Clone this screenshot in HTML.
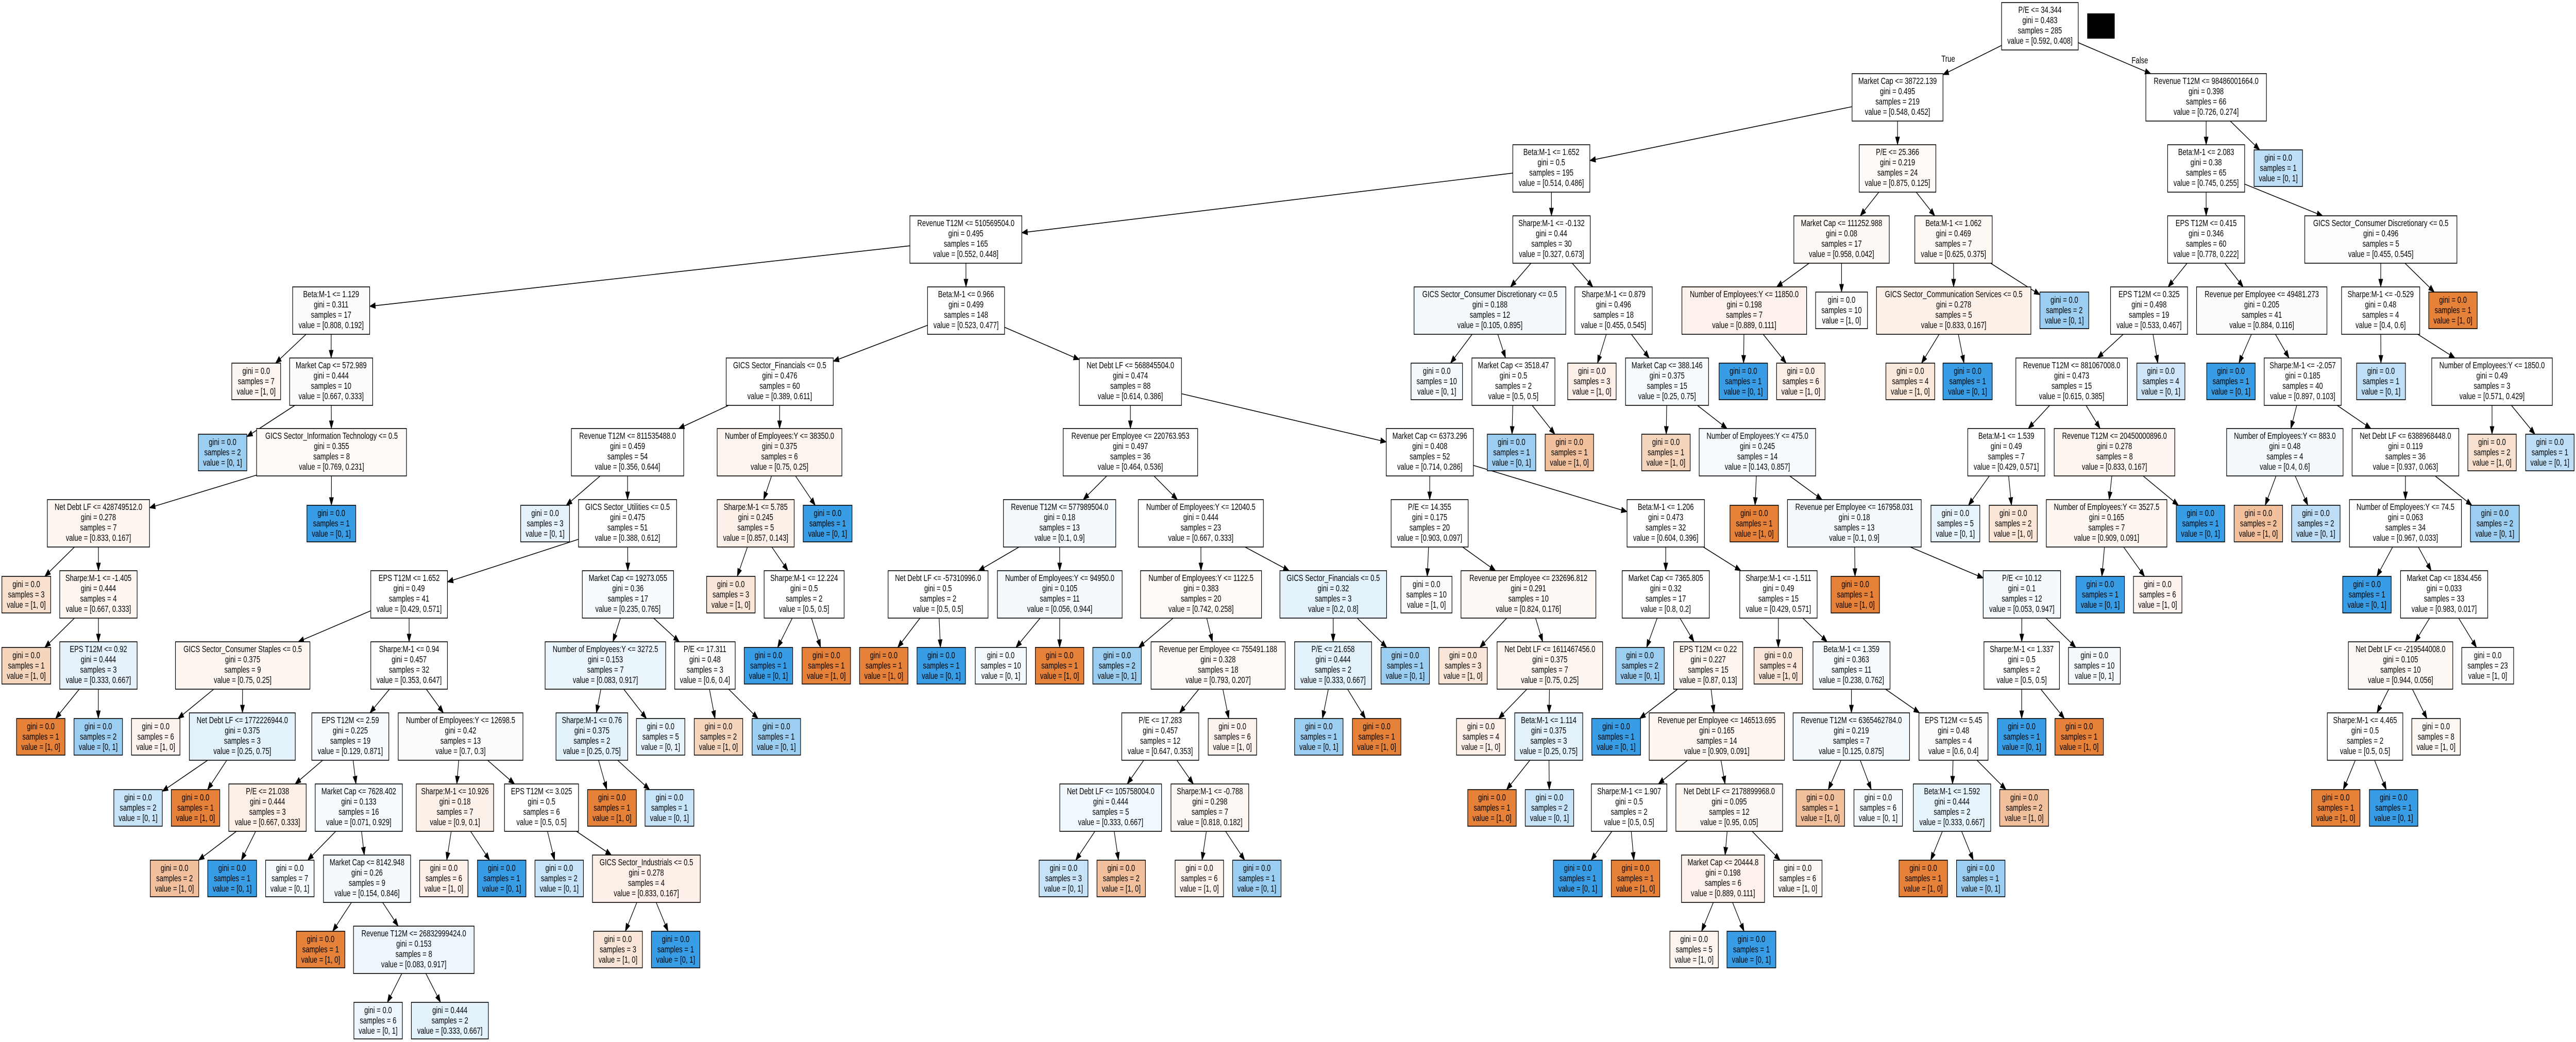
<!DOCTYPE html>
<html><head><meta charset="utf-8"><style>
html,body{margin:0;padding:0;background:#fff;overflow:hidden;width:100%;height:100%}
svg#main{display:block;width:100vw;height:100vh}
svg svg{overflow:visible}
text{font-family:"Liberation Sans",Arial,sans-serif;font-size:18px;text-anchor:middle;fill:#000}
rect.n{stroke:#000;stroke-width:1.6}
</style></head><body>
<svg id="main" xmlns="http://www.w3.org/2000/svg" viewBox="0 0 6857 2023" preserveAspectRatio="none">
<rect x="0" y="0" width="6857" height="2023" fill="#fff"/>
<g id="edges"></g>
<rect x="5556" y="26" width="73" height="49" fill="#000"/>
<text x="5186" y="120">True</text>
<text x="5696" y="123">False</text>

<svg id="R0" x="5328" y="5" width="204" height="92"><rect class="n" width="100%" height="100%" fill="#fff"/><text x="50%" y="20">P/E &lt;= 34.344</text><text x="50%" y="40">gini = 0.483</text><text x="50%" y="60">samples = 285</text><text x="50%" y="80">value = [0.592, 0.408]</text></svg>
<svg id="A1" x="4930" y="143" width="242" height="92"><rect class="n" width="100%" height="100%" fill="#fff"/><text x="50%" y="20">Market Cap &lt;= 38722.139</text><text x="50%" y="40">gini = 0.495</text><text x="50%" y="60">samples = 219</text><text x="50%" y="80">value = [0.548, 0.452]</text></svg>
<svg id="A2" x="5712" y="143" width="321" height="92"><rect class="n" width="100%" height="100%" fill="#fff"/><text x="50%" y="20">Revenue T12M &lt;= 98486001664.0</text><text x="50%" y="40">gini = 0.398</text><text x="50%" y="60">samples = 66</text><text x="50%" y="80">value = [0.726, 0.274]</text></svg>
<svg id="B1" x="4027" y="281" width="205" height="92"><rect class="n" width="100%" height="100%" fill="#fff"/><text x="50%" y="20">Beta:M-1 &lt;= 1.652</text><text x="50%" y="40">gini = 0.5</text><text x="50%" y="60">samples = 195</text><text x="50%" y="80">value = [0.514, 0.486]</text></svg>
<svg id="B2" x="4949" y="281" width="204" height="92"><rect class="n" width="100%" height="100%" fill="#fefaf7"/><text x="50%" y="20">P/E &lt;= 25.366</text><text x="50%" y="40">gini = 0.219</text><text x="50%" y="60">samples = 24</text><text x="50%" y="80">value = [0.875, 0.125]</text></svg>
<svg id="B3" x="5770" y="281" width="205" height="92"><rect class="n" width="100%" height="100%" fill="#fff"/><text x="50%" y="20">Beta:M-1 &lt;= 2.083</text><text x="50%" y="40">gini = 0.38</text><text x="50%" y="60">samples = 65</text><text x="50%" y="80">value = [0.745, 0.255]</text></svg>
<svg id="B4" x="6000" y="291" width="129" height="71"><rect class="n" width="100%" height="100%" fill="#bcdef6"/><text x="50%" y="21">gini = 0.0</text><text x="50%" y="41">samples = 1</text><text x="50%" y="61">value = [0, 1]</text></svg>

<svg id="C1" x="2422" y="419" width="298" height="92"><rect class="n" width="100%" height="100%" fill="#fff"/><text x="50%" y="20">Revenue T12M &lt;= 510569504.0</text><text x="50%" y="40">gini = 0.495</text><text x="50%" y="60">samples = 165</text><text x="50%" y="80">value = [0.552, 0.448]</text></svg>
<svg id="C2" x="4027" y="419" width="206" height="92"><rect class="n" width="100%" height="100%" fill="#fff"/><text x="50%" y="20">Sharpe:M-1 &lt;= -0.132</text><text x="50%" y="40">gini = 0.44</text><text x="50%" y="60">samples = 30</text><text x="50%" y="80">value = [0.327, 0.673]</text></svg>
<svg id="C3" x="4775" y="419" width="254" height="92"><rect class="n" width="100%" height="100%" fill="#fdf8f4"/><text x="50%" y="20">Market Cap &lt;= 111252.988</text><text x="50%" y="40">gini = 0.08</text><text x="50%" y="60">samples = 17</text><text x="50%" y="80">value = [0.958, 0.042]</text></svg>
<svg id="C4" x="5097" y="419" width="206" height="92"><rect class="n" width="100%" height="100%" fill="#fdf8f4"/><text x="50%" y="20">Beta:M-1 &lt;= 1.062</text><text x="50%" y="40">gini = 0.469</text><text x="50%" y="60">samples = 7</text><text x="50%" y="80">value = [0.625, 0.375]</text></svg>
<svg id="C5" x="5770" y="419" width="205" height="92"><rect class="n" width="100%" height="100%" fill="#fff"/><text x="50%" y="20">EPS T12M &lt;= 0.415</text><text x="50%" y="40">gini = 0.346</text><text x="50%" y="60">samples = 60</text><text x="50%" y="80">value = [0.778, 0.222]</text></svg>
<svg id="C6" x="6135" y="419" width="405" height="92"><rect class="n" width="100%" height="100%" fill="#fcfdff"/><text x="50%" y="20">GICS Sector_Consumer Discretionary &lt;= 0.5</text><text x="50%" y="40">gini = 0.496</text><text x="50%" y="60">samples = 5</text><text x="50%" y="80">value = [0.455, 0.545]</text></svg>

<svg id="D1" x="779" y="557" width="205" height="92"><rect class="n" width="100%" height="100%" fill="#fefcfb"/><text x="50%" y="20">Beta:M-1 &lt;= 1.129</text><text x="50%" y="40">gini = 0.311</text><text x="50%" y="60">samples = 17</text><text x="50%" y="80">value = [0.808, 0.192]</text></svg>
<svg id="D2" x="2469" y="557" width="205" height="92"><rect class="n" width="100%" height="100%" fill="#fff"/><text x="50%" y="20">Beta:M-1 &lt;= 0.966</text><text x="50%" y="40">gini = 0.499</text><text x="50%" y="60">samples = 148</text><text x="50%" y="80">value = [0.523, 0.477]</text></svg>
<svg id="D3" x="3764" y="557" width="404" height="92"><rect class="n" width="100%" height="100%" fill="#f4f9fe"/><text x="50%" y="20">GICS Sector_Consumer Discretionary &lt;= 0.5</text><text x="50%" y="40">gini = 0.188</text><text x="50%" y="60">samples = 12</text><text x="50%" y="80">value = [0.105, 0.895]</text></svg>
<svg id="D4" x="4192" y="557" width="206" height="92"><rect class="n" width="100%" height="100%" fill="#fff"/><text x="50%" y="20">Sharpe:M-1 &lt;= 0.879</text><text x="50%" y="40">gini = 0.496</text><text x="50%" y="60">samples = 18</text><text x="50%" y="80">value = [0.455, 0.545]</text></svg>
<svg id="D5" x="4477" y="557" width="332" height="92"><rect class="n" width="100%" height="100%" fill="#fcf2eb"/><text x="50%" y="20">Number of Employees:Y &lt;= 11850.0</text><text x="50%" y="40">gini = 0.198</text><text x="50%" y="60">samples = 7</text><text x="50%" y="80">value = [0.889, 0.111]</text></svg>
<svg id="D6" x="4833" y="567" width="138" height="71"><rect class="n" width="100%" height="100%" fill="#fefcfb"/><text x="50%" y="21">gini = 0.0</text><text x="50%" y="41">samples = 10</text><text x="50%" y="61">value = [1, 0]</text></svg>
<svg id="D7" x="4995" y="557" width="411" height="92"><rect class="n" width="100%" height="100%" fill="#fcf1e9"/><text x="50%" y="20">GICS Sector_Communication Services &lt;= 0.5</text><text x="50%" y="40">gini = 0.278</text><text x="50%" y="60">samples = 5</text><text x="50%" y="80">value = [0.833, 0.167]</text></svg>
<svg id="D8" x="5430" y="567" width="130" height="71"><rect class="n" width="100%" height="100%" fill="#9ccef2"/><text x="50%" y="21">gini = 0.0</text><text x="50%" y="41">samples = 2</text><text x="50%" y="61">value = [0, 1]</text></svg>
<svg id="D9" x="5618" y="557" width="205" height="92"><rect class="n" width="100%" height="100%" fill="#fff"/><text x="50%" y="20">EPS T12M &lt;= 0.325</text><text x="50%" y="40">gini = 0.498</text><text x="50%" y="60">samples = 19</text><text x="50%" y="80">value = [0.533, 0.467]</text></svg>
<svg id="D10" x="5847" y="557" width="347" height="92"><rect class="n" width="100%" height="100%" fill="#fefcfa"/><text x="50%" y="20">Revenue per Employee &lt;= 49481.273</text><text x="50%" y="40">gini = 0.205</text><text x="50%" y="60">samples = 41</text><text x="50%" y="80">value = [0.884, 0.116]</text></svg>
<svg id="D11" x="6233" y="557" width="208" height="92"><rect class="n" width="100%" height="100%" fill="#fff"/><text x="50%" y="20">Sharpe:M-1 &lt;= -0.529</text><text x="50%" y="40">gini = 0.48</text><text x="50%" y="60">samples = 4</text><text x="50%" y="80">value = [0.4, 0.6]</text></svg>
<svg id="D12" x="6465" y="567" width="129" height="71"><rect class="n" width="100%" height="100%" fill="#e58139"/><text x="50%" y="21">gini = 0.0</text><text x="50%" y="41">samples = 1</text><text x="50%" y="61">value = [1, 0]</text></svg>

<svg id="E1" x="617" y="705" width="130" height="71"><rect class="n" width="100%" height="100%" fill="#fdf5f0"/><text x="50%" y="21">gini = 0.0</text><text x="50%" y="41">samples = 7</text><text x="50%" y="61">value = [1, 0]</text></svg>
<svg id="E2" x="771" y="695" width="221" height="92"><rect class="n" width="100%" height="100%" fill="#fefcfb"/><text x="50%" y="20">Market Cap &lt;= 572.989</text><text x="50%" y="40">gini = 0.444</text><text x="50%" y="60">samples = 10</text><text x="50%" y="80">value = [0.667, 0.333]</text></svg>
<svg id="E3" x="1933" y="695" width="285" height="92"><rect class="n" width="100%" height="100%" fill="#fff"/><text x="50%" y="20">GICS Sector_Financials &lt;= 0.5</text><text x="50%" y="40">gini = 0.476</text><text x="50%" y="60">samples = 60</text><text x="50%" y="80">value = [0.389, 0.611]</text></svg>
<svg id="E4" x="2873" y="695" width="272" height="92"><rect class="n" width="100%" height="100%" fill="#fff"/><text x="50%" y="20">Net Debt LF &lt;= 568845504.0</text><text x="50%" y="40">gini = 0.474</text><text x="50%" y="60">samples = 88</text><text x="50%" y="80">value = [0.614, 0.386]</text></svg>
<svg id="E5" x="3756" y="705" width="137" height="71"><rect class="n" width="100%" height="100%" fill="#f4f9fe"/><text x="50%" y="21">gini = 0.0</text><text x="50%" y="41">samples = 10</text><text x="50%" y="61">value = [0, 1]</text></svg>
<svg id="E6" x="3918" y="695" width="221" height="92"><rect class="n" width="100%" height="100%" fill="#fff"/><text x="50%" y="20">Market Cap &lt;= 3518.47</text><text x="50%" y="40">gini = 0.5</text><text x="50%" y="60">samples = 2</text><text x="50%" y="80">value = [0.5, 0.5]</text></svg>
<svg id="E7" x="4173" y="705" width="129" height="71"><rect class="n" width="100%" height="100%" fill="#fcf0e8"/><text x="50%" y="21">gini = 0.0</text><text x="50%" y="41">samples = 3</text><text x="50%" y="61">value = [1, 0]</text></svg>
<svg id="E8" x="4327" y="695" width="221" height="92"><rect class="n" width="100%" height="100%" fill="#f8fbfe"/><text x="50%" y="20">Market Cap &lt;= 388.146</text><text x="50%" y="40">gini = 0.375</text><text x="50%" y="60">samples = 15</text><text x="50%" y="80">value = [0.25, 0.75]</text></svg>
<svg id="E9" x="4576" y="705" width="129" height="71"><rect class="n" width="100%" height="100%" fill="#399de5"/><text x="50%" y="21">gini = 0.0</text><text x="50%" y="41">samples = 1</text><text x="50%" y="61">value = [0, 1]</text></svg>
<svg id="E10" x="4729" y="705" width="129" height="71"><rect class="n" width="100%" height="100%" fill="#fcf0e8"/><text x="50%" y="21">gini = 0.0</text><text x="50%" y="41">samples = 6</text><text x="50%" y="61">value = [1, 0]</text></svg>
<svg id="E11" x="5020" y="705" width="130" height="71"><rect class="n" width="100%" height="100%" fill="#fbe9dc"/><text x="50%" y="21">gini = 0.0</text><text x="50%" y="41">samples = 4</text><text x="50%" y="61">value = [1, 0]</text></svg>
<svg id="E12" x="5172" y="705" width="131" height="71"><rect class="n" width="100%" height="100%" fill="#399de5"/><text x="50%" y="21">gini = 0.0</text><text x="50%" y="41">samples = 1</text><text x="50%" y="61">value = [0, 1]</text></svg>
<svg id="E13" x="5366" y="695" width="297" height="92"><rect class="n" width="100%" height="100%" fill="#fff"/><text x="50%" y="20">Revenue T12M &lt;= 881067008.0</text><text x="50%" y="40">gini = 0.473</text><text x="50%" y="60">samples = 15</text><text x="50%" y="80">value = [0.615, 0.385]</text></svg>
<svg id="E14" x="5688" y="705" width="128" height="71"><rect class="n" width="100%" height="100%" fill="#cfe7f9"/><text x="50%" y="21">gini = 0.0</text><text x="50%" y="41">samples = 4</text><text x="50%" y="61">value = [0, 1]</text></svg>
<svg id="E15" x="5874" y="705" width="129" height="71"><rect class="n" width="100%" height="100%" fill="#399de5"/><text x="50%" y="21">gini = 0.0</text><text x="50%" y="41">samples = 1</text><text x="50%" y="61">value = [0, 1]</text></svg>
<svg id="E16" x="6027" y="695" width="205" height="92"><rect class="n" width="100%" height="100%" fill="#fff"/><text x="50%" y="20">Sharpe:M-1 &lt;= -2.057</text><text x="50%" y="40">gini = 0.185</text><text x="50%" y="60">samples = 40</text><text x="50%" y="80">value = [0.897, 0.103]</text></svg>
<svg id="E17" x="6273" y="705" width="130" height="71"><rect class="n" width="100%" height="100%" fill="#bfe0f7"/><text x="50%" y="21">gini = 0.0</text><text x="50%" y="41">samples = 1</text><text x="50%" y="61">value = [0, 1]</text></svg>
<svg id="E18" x="6473" y="695" width="321" height="92"><rect class="n" width="100%" height="100%" fill="#fff"/><text x="50%" y="20">Number of Employees:Y &lt;= 1850.0</text><text x="50%" y="40">gini = 0.49</text><text x="50%" y="60">samples = 3</text><text x="50%" y="80">value = [0.571, 0.429]</text></svg>

<svg id="F1" x="528" y="843" width="129" height="71"><rect class="n" width="100%" height="100%" fill="#9ccef2"/><text x="50%" y="21">gini = 0.0</text><text x="50%" y="41">samples = 2</text><text x="50%" y="61">value = [0, 1]</text></svg>
<svg id="F2" x="683" y="832" width="399" height="92"><rect class="n" width="100%" height="100%" fill="#fefaf7"/><text x="50%" y="20">GICS Sector_Information Technology &lt;= 0.5</text><text x="50%" y="40">gini = 0.355</text><text x="50%" y="60">samples = 8</text><text x="50%" y="80">value = [0.769, 0.231]</text></svg>
<svg id="F3" x="1521" y="832" width="299" height="92"><rect class="n" width="100%" height="100%" fill="#fff"/><text x="50%" y="20">Revenue T12M &lt;= 811535488.0</text><text x="50%" y="40">gini = 0.459</text><text x="50%" y="60">samples = 54</text><text x="50%" y="80">value = [0.356, 0.644]</text></svg>
<svg id="F4" x="1909" y="832" width="332" height="92"><rect class="n" width="100%" height="100%" fill="#fcf4ee"/><text x="50%" y="20">Number of Employees:Y &lt;= 38350.0</text><text x="50%" y="40">gini = 0.375</text><text x="50%" y="60">samples = 6</text><text x="50%" y="80">value = [0.75, 0.25]</text></svg>
<svg id="F5" x="2830" y="832" width="358" height="92"><rect class="n" width="100%" height="100%" fill="#fff"/><text x="50%" y="20">Revenue per Employee &lt;= 220763.953</text><text x="50%" y="40">gini = 0.497</text><text x="50%" y="60">samples = 36</text><text x="50%" y="80">value = [0.464, 0.536]</text></svg>
<svg id="F6" x="3690" y="832" width="232" height="92"><rect class="n" width="100%" height="100%" fill="#fff"/><text x="50%" y="20">Market Cap &lt;= 6373.296</text><text x="50%" y="40">gini = 0.408</text><text x="50%" y="60">samples = 52</text><text x="50%" y="80">value = [0.714, 0.286]</text></svg>
<svg id="F7" x="3959" y="843" width="129" height="71"><rect class="n" width="100%" height="100%" fill="#9ccef2"/><text x="50%" y="21">gini = 0.0</text><text x="50%" y="41">samples = 1</text><text x="50%" y="61">value = [0, 1]</text></svg>
<svg id="F8" x="4113" y="843" width="129" height="71"><rect class="n" width="100%" height="100%" fill="#f2c09c"/><text x="50%" y="21">gini = 0.0</text><text x="50%" y="41">samples = 1</text><text x="50%" y="61">value = [1, 0]</text></svg>
<svg id="F9" x="4370" y="843" width="129" height="71"><rect class="n" width="100%" height="100%" fill="#f6d5bd"/><text x="50%" y="21">gini = 0.0</text><text x="50%" y="41">samples = 1</text><text x="50%" y="61">value = [1, 0]</text></svg>
<svg id="F10" x="4523" y="832" width="310" height="92"><rect class="n" width="100%" height="100%" fill="#f6fafe"/><text x="50%" y="20">Number of Employees:Y &lt;= 475.0</text><text x="50%" y="40">gini = 0.245</text><text x="50%" y="60">samples = 14</text><text x="50%" y="80">value = [0.143, 0.857]</text></svg>
<svg id="F11" x="5238" y="832" width="205" height="92"><rect class="n" width="100%" height="100%" fill="#fff"/><text x="50%" y="20">Beta:M-1 &lt;= 1.539</text><text x="50%" y="40">gini = 0.49</text><text x="50%" y="60">samples = 7</text><text x="50%" y="80">value = [0.429, 0.571]</text></svg>
<svg id="F12" x="5468" y="832" width="321" height="92"><rect class="n" width="100%" height="100%" fill="#fdf6f1"/><text x="50%" y="20">Revenue T12M &lt;= 20450000896.0</text><text x="50%" y="40">gini = 0.278</text><text x="50%" y="60">samples = 8</text><text x="50%" y="80">value = [0.833, 0.167]</text></svg>
<svg id="F13" x="5927" y="832" width="310" height="92"><rect class="n" width="100%" height="100%" fill="#f4f9fe"/><text x="50%" y="20">Number of Employees:Y &lt;= 883.0</text><text x="50%" y="40">gini = 0.48</text><text x="50%" y="60">samples = 4</text><text x="50%" y="80">value = [0.4, 0.6]</text></svg>
<svg id="F14" x="6261" y="832" width="284" height="92"><rect class="n" width="100%" height="100%" fill="#fff"/><text x="50%" y="20">Net Debt LF &lt;= 6388968448.0</text><text x="50%" y="40">gini = 0.119</text><text x="50%" y="60">samples = 36</text><text x="50%" y="80">value = [0.937, 0.063]</text></svg>
<svg id="F15" x="6569" y="843" width="129" height="71"><rect class="n" width="100%" height="100%" fill="#f8e0ce"/><text x="50%" y="21">gini = 0.0</text><text x="50%" y="41">samples = 2</text><text x="50%" y="61">value = [1, 0]</text></svg>
<svg id="F16" x="6723" y="843" width="129" height="71"><rect class="n" width="100%" height="100%" fill="#bddef6"/><text x="50%" y="21">gini = 0.0</text><text x="50%" y="41">samples = 1</text><text x="50%" y="61">value = [0, 1]</text></svg>

<svg id="G1" x="126" y="970" width="272" height="92"><rect class="n" width="100%" height="100%" fill="#fdf6f1"/><text x="50%" y="20">Net Debt LF &lt;= 428749512.0</text><text x="50%" y="40">gini = 0.278</text><text x="50%" y="60">samples = 7</text><text x="50%" y="80">value = [0.833, 0.167]</text></svg>
<svg id="G2" x="817" y="981" width="130" height="71"><rect class="n" width="100%" height="100%" fill="#399de5"/><text x="50%" y="21">gini = 0.0</text><text x="50%" y="41">samples = 1</text><text x="50%" y="61">value = [0, 1]</text></svg>
<svg id="G3" x="1386" y="981" width="130" height="71"><rect class="n" width="100%" height="100%" fill="#e5f2fc"/><text x="50%" y="21">gini = 0.0</text><text x="50%" y="41">samples = 3</text><text x="50%" y="61">value = [0, 1]</text></svg>
<svg id="G4" x="1540" y="970" width="261" height="92"><rect class="n" width="100%" height="100%" fill="#fff"/><text x="50%" y="20">GICS Sector_Utilities &lt;= 0.5</text><text x="50%" y="40">gini = 0.475</text><text x="50%" y="60">samples = 51</text><text x="50%" y="80">value = [0.388, 0.612]</text></svg>
<svg id="G5" x="1909" y="970" width="205" height="92"><rect class="n" width="100%" height="100%" fill="#fcf1e9"/><text x="50%" y="20">Sharpe:M-1 &lt;= 5.785</text><text x="50%" y="40">gini = 0.245</text><text x="50%" y="60">samples = 5</text><text x="50%" y="80">value = [0.857, 0.143]</text></svg>
<svg id="G6" x="2138" y="981" width="130" height="71"><rect class="n" width="100%" height="100%" fill="#399de5"/><text x="50%" y="21">gini = 0.0</text><text x="50%" y="41">samples = 1</text><text x="50%" y="61">value = [0, 1]</text></svg>
<svg id="G7" x="2671" y="970" width="299" height="92"><rect class="n" width="100%" height="100%" fill="#f4f9fe"/><text x="50%" y="20">Revenue T12M &lt;= 577989504.0</text><text x="50%" y="40">gini = 0.18</text><text x="50%" y="60">samples = 13</text><text x="50%" y="80">value = [0.1, 0.9]</text></svg>
<svg id="G8" x="3030" y="970" width="333" height="92"><rect class="n" width="100%" height="100%" fill="#fff"/><text x="50%" y="20">Number of Employees:Y &lt;= 12040.5</text><text x="50%" y="40">gini = 0.444</text><text x="50%" y="60">samples = 23</text><text x="50%" y="80">value = [0.667, 0.333]</text></svg>
<svg id="G9" x="3703" y="970" width="205" height="92"><rect class="n" width="100%" height="100%" fill="#fff"/><text x="50%" y="20">P/E &lt;= 14.355</text><text x="50%" y="40">gini = 0.175</text><text x="50%" y="60">samples = 20</text><text x="50%" y="80">value = [0.903, 0.097]</text></svg>
<svg id="G10" x="4331" y="970" width="206" height="92"><rect class="n" width="100%" height="100%" fill="#fff"/><text x="50%" y="20">Beta:M-1 &lt;= 1.206</text><text x="50%" y="40">gini = 0.473</text><text x="50%" y="60">samples = 32</text><text x="50%" y="80">value = [0.604, 0.396]</text></svg>
<svg id="G11" x="4605" y="981" width="129" height="71"><rect class="n" width="100%" height="100%" fill="#e58139"/><text x="50%" y="21">gini = 0.0</text><text x="50%" y="41">samples = 1</text><text x="50%" y="61">value = [1, 0]</text></svg>
<svg id="G12" x="4758" y="970" width="356" height="92"><rect class="n" width="100%" height="100%" fill="#f4f9fe"/><text x="50%" y="20">Revenue per Employee &lt;= 167958.031</text><text x="50%" y="40">gini = 0.18</text><text x="50%" y="60">samples = 13</text><text x="50%" y="80">value = [0.1, 0.9]</text></svg>
<svg id="G13" x="5140" y="981" width="130" height="71"><rect class="n" width="100%" height="100%" fill="#e8f4fc"/><text x="50%" y="21">gini = 0.0</text><text x="50%" y="41">samples = 5</text><text x="50%" y="61">value = [0, 1]</text></svg>
<svg id="G14" x="5295" y="981" width="128" height="71"><rect class="n" width="100%" height="100%" fill="#fae5d6"/><text x="50%" y="21">gini = 0.0</text><text x="50%" y="41">samples = 2</text><text x="50%" y="61">value = [1, 0]</text></svg>
<svg id="G15" x="5447" y="970" width="321" height="92"><rect class="n" width="100%" height="100%" fill="#fdf6f1"/><text x="50%" y="20">Number of Employees:Y &lt;= 3527.5</text><text x="50%" y="40">gini = 0.165</text><text x="50%" y="60">samples = 7</text><text x="50%" y="80">value = [0.909, 0.091]</text></svg>
<svg id="G16" x="5793" y="981" width="129" height="71"><rect class="n" width="100%" height="100%" fill="#399de5"/><text x="50%" y="21">gini = 0.0</text><text x="50%" y="41">samples = 1</text><text x="50%" y="61">value = [0, 1]</text></svg>
<svg id="G17" x="5947" y="981" width="129" height="71"><rect class="n" width="100%" height="100%" fill="#f2c09c"/><text x="50%" y="21">gini = 0.0</text><text x="50%" y="41">samples = 2</text><text x="50%" y="61">value = [1, 0]</text></svg>
<svg id="G18" x="6100" y="981" width="129" height="71"><rect class="n" width="100%" height="100%" fill="#bddef6"/><text x="50%" y="21">gini = 0.0</text><text x="50%" y="41">samples = 2</text><text x="50%" y="61">value = [0, 1]</text></svg>
<svg id="G19" x="6254" y="970" width="298" height="92"><rect class="n" width="100%" height="100%" fill="#fff"/><text x="50%" y="20">Number of Employees:Y &lt;= 74.5</text><text x="50%" y="40">gini = 0.063</text><text x="50%" y="60">samples = 34</text><text x="50%" y="80">value = [0.967, 0.033]</text></svg>
<svg id="G20" x="6576" y="981" width="130" height="71"><rect class="n" width="100%" height="100%" fill="#9ccef2"/><text x="50%" y="21">gini = 0.0</text><text x="50%" y="41">samples = 2</text><text x="50%" y="61">value = [0, 1]</text></svg>

<svg id="H1" x="5" y="1119" width="130" height="71"><rect class="n" width="100%" height="100%" fill="#f8e0ce"/><text x="50%" y="21">gini = 0.0</text><text x="50%" y="41">samples = 3</text><text x="50%" y="61">value = [1, 0]</text></svg>
<svg id="H2" x="159" y="1108" width="206" height="92"><rect class="n" width="100%" height="100%" fill="#fdf6f1"/><text x="50%" y="20">Sharpe:M-1 &lt;= -1.405</text><text x="50%" y="40">gini = 0.444</text><text x="50%" y="60">samples = 4</text><text x="50%" y="80">value = [0.667, 0.333]</text></svg>
<svg id="H3" x="987" y="1108" width="204" height="92"><rect class="n" width="100%" height="100%" fill="#fff"/><text x="50%" y="20">EPS T12M &lt;= 1.652</text><text x="50%" y="40">gini = 0.49</text><text x="50%" y="60">samples = 41</text><text x="50%" y="80">value = [0.429, 0.571]</text></svg>
<svg id="H4" x="1550" y="1108" width="243" height="92"><rect class="n" width="100%" height="100%" fill="#f7fbfe"/><text x="50%" y="20">Market Cap &lt;= 19273.055</text><text x="50%" y="40">gini = 0.36</text><text x="50%" y="60">samples = 17</text><text x="50%" y="80">value = [0.235, 0.765]</text></svg>
<svg id="H5" x="1881" y="1119" width="129" height="71"><rect class="n" width="100%" height="100%" fill="#fae6d8"/><text x="50%" y="21">gini = 0.0</text><text x="50%" y="41">samples = 3</text><text x="50%" y="61">value = [1, 0]</text></svg>
<svg id="H6" x="2034" y="1108" width="213" height="92"><rect class="n" width="100%" height="100%" fill="#fff"/><text x="50%" y="20">Sharpe:M-1 &lt;= 12.224</text><text x="50%" y="40">gini = 0.5</text><text x="50%" y="60">samples = 2</text><text x="50%" y="80">value = [0.5, 0.5]</text></svg>
<svg id="H7" x="2364" y="1108" width="266" height="92"><rect class="n" width="100%" height="100%" fill="#fff"/><text x="50%" y="20">Net Debt LF &lt;= -57310996.0</text><text x="50%" y="40">gini = 0.5</text><text x="50%" y="60">samples = 2</text><text x="50%" y="80">value = [0.5, 0.5]</text></svg>
<svg id="H8" x="2655" y="1108" width="332" height="92"><rect class="n" width="100%" height="100%" fill="#f4f9fe"/><text x="50%" y="20">Number of Employees:Y &lt;= 94950.0</text><text x="50%" y="40">gini = 0.105</text><text x="50%" y="60">samples = 11</text><text x="50%" y="80">value = [0.056, 0.944]</text></svg>
<svg id="H9" x="3036" y="1108" width="322" height="92"><rect class="n" width="100%" height="100%" fill="#fefaf7"/><text x="50%" y="20">Number of Employees:Y &lt;= 1122.5</text><text x="50%" y="40">gini = 0.383</text><text x="50%" y="60">samples = 20</text><text x="50%" y="80">value = [0.742, 0.258]</text></svg>
<svg id="H10" x="3407" y="1108" width="284" height="92"><rect class="n" width="100%" height="100%" fill="#e3f1fb"/><text x="50%" y="20">GICS Sector_Financials &lt;= 0.5</text><text x="50%" y="40">gini = 0.32</text><text x="50%" y="60">samples = 3</text><text x="50%" y="80">value = [0.2, 0.8]</text></svg>
<svg id="H11" x="3729" y="1119" width="136" height="71"><rect class="n" width="100%" height="100%" fill="#fefcfb"/><text x="50%" y="21">gini = 0.0</text><text x="50%" y="41">samples = 10</text><text x="50%" y="61">value = [1, 0]</text></svg>
<svg id="H12" x="3889" y="1108" width="359" height="92"><rect class="n" width="100%" height="100%" fill="#fdf8f4"/><text x="50%" y="20">Revenue per Employee &lt;= 232696.812</text><text x="50%" y="40">gini = 0.291</text><text x="50%" y="60">samples = 10</text><text x="50%" y="80">value = [0.824, 0.176]</text></svg>
<svg id="H13" x="4318" y="1108" width="232" height="92"><rect class="n" width="100%" height="100%" fill="#fff"/><text x="50%" y="20">Market Cap &lt;= 7365.805</text><text x="50%" y="40">gini = 0.32</text><text x="50%" y="60">samples = 17</text><text x="50%" y="80">value = [0.8, 0.2]</text></svg>
<svg id="H14" x="4631" y="1108" width="206" height="92"><rect class="n" width="100%" height="100%" fill="#fff"/><text x="50%" y="20">Sharpe:M-1 &lt;= -1.511</text><text x="50%" y="40">gini = 0.49</text><text x="50%" y="60">samples = 15</text><text x="50%" y="80">value = [0.429, 0.571]</text></svg>
<svg id="H15" x="4874" y="1119" width="129" height="71"><rect class="n" width="100%" height="100%" fill="#e58139"/><text x="50%" y="21">gini = 0.0</text><text x="50%" y="41">samples = 1</text><text x="50%" y="61">value = [1, 0]</text></svg>
<svg id="H16" x="5279" y="1108" width="206" height="92"><rect class="n" width="100%" height="100%" fill="#f4f9fe"/><text x="50%" y="20">P/E &lt;= 10.12</text><text x="50%" y="40">gini = 0.1</text><text x="50%" y="60">samples = 12</text><text x="50%" y="80">value = [0.053, 0.947]</text></svg>
<svg id="H17" x="5526" y="1119" width="129" height="71"><rect class="n" width="100%" height="100%" fill="#399de5"/><text x="50%" y="21">gini = 0.0</text><text x="50%" y="41">samples = 1</text><text x="50%" y="61">value = [0, 1]</text></svg>
<svg id="H18" x="5679" y="1119" width="129" height="71"><rect class="n" width="100%" height="100%" fill="#fdf3ee"/><text x="50%" y="21">gini = 0.0</text><text x="50%" y="41">samples = 6</text><text x="50%" y="61">value = [1, 0]</text></svg>
<svg id="H19" x="6236" y="1119" width="129" height="71"><rect class="n" width="100%" height="100%" fill="#399de5"/><text x="50%" y="21">gini = 0.0</text><text x="50%" y="41">samples = 1</text><text x="50%" y="61">value = [0, 1]</text></svg>
<svg id="H20" x="6390" y="1108" width="232" height="92"><rect class="n" width="100%" height="100%" fill="#fff"/><text x="50%" y="20">Market Cap &lt;= 1834.456</text><text x="50%" y="40">gini = 0.033</text><text x="50%" y="60">samples = 33</text><text x="50%" y="80">value = [0.983, 0.017]</text></svg>

<svg id="I1" x="5" y="1257" width="130" height="71"><rect class="n" width="100%" height="100%" fill="#f6d5bd"/><text x="50%" y="21">gini = 0.0</text><text x="50%" y="41">samples = 1</text><text x="50%" y="61">value = [1, 0]</text></svg>
<svg id="I2" x="159" y="1246" width="206" height="92"><rect class="n" width="100%" height="100%" fill="#e5f2fc"/><text x="50%" y="20">EPS T12M &lt;= 0.92</text><text x="50%" y="40">gini = 0.444</text><text x="50%" y="60">samples = 3</text><text x="50%" y="80">value = [0.333, 0.667]</text></svg>
<svg id="I3" x="467" y="1246" width="358" height="92"><rect class="n" width="100%" height="100%" fill="#fdf6f1"/><text x="50%" y="20">GICS Sector_Consumer Staples &lt;= 0.5</text><text x="50%" y="40">gini = 0.375</text><text x="50%" y="60">samples = 9</text><text x="50%" y="80">value = [0.75, 0.25]</text></svg>
<svg id="I4" x="987" y="1246" width="204" height="92"><rect class="n" width="100%" height="100%" fill="#fff"/><text x="50%" y="20">Sharpe:M-1 &lt;= 0.94</text><text x="50%" y="40">gini = 0.457</text><text x="50%" y="60">samples = 32</text><text x="50%" y="80">value = [0.353, 0.647]</text></svg>
<svg id="I5" x="1451" y="1246" width="321" height="92"><rect class="n" width="100%" height="100%" fill="#eaf5fc"/><text x="50%" y="20">Number of Employees:Y &lt;= 3272.5</text><text x="50%" y="40">gini = 0.153</text><text x="50%" y="60">samples = 7</text><text x="50%" y="80">value = [0.083, 0.917]</text></svg>
<svg id="I6" x="1796" y="1246" width="161" height="92"><rect class="n" width="100%" height="100%" fill="#fefcfb"/><text x="50%" y="20">P/E &lt;= 17.311</text><text x="50%" y="40">gini = 0.48</text><text x="50%" y="60">samples = 3</text><text x="50%" y="80">value = [0.6, 0.4]</text></svg>
<svg id="I7" x="1981" y="1257" width="129" height="71"><rect class="n" width="100%" height="100%" fill="#399de5"/><text x="50%" y="21">gini = 0.0</text><text x="50%" y="41">samples = 1</text><text x="50%" y="61">value = [0, 1]</text></svg>
<svg id="I8" x="2135" y="1257" width="129" height="71"><rect class="n" width="100%" height="100%" fill="#e58139"/><text x="50%" y="21">gini = 0.0</text><text x="50%" y="41">samples = 1</text><text x="50%" y="61">value = [1, 0]</text></svg>
<svg id="I9" x="2288" y="1257" width="129" height="71"><rect class="n" width="100%" height="100%" fill="#e58139"/><text x="50%" y="21">gini = 0.0</text><text x="50%" y="41">samples = 1</text><text x="50%" y="61">value = [1, 0]</text></svg>
<svg id="I10" x="2441" y="1257" width="129" height="71"><rect class="n" width="100%" height="100%" fill="#399de5"/><text x="50%" y="21">gini = 0.0</text><text x="50%" y="41">samples = 1</text><text x="50%" y="61">value = [0, 1]</text></svg>
<svg id="I11" x="2596" y="1257" width="136" height="71"><rect class="n" width="100%" height="100%" fill="#f4f9fe"/><text x="50%" y="21">gini = 0.0</text><text x="50%" y="41">samples = 10</text><text x="50%" y="61">value = [0, 1]</text></svg>
<svg id="I12" x="2756" y="1257" width="129" height="71"><rect class="n" width="100%" height="100%" fill="#e58139"/><text x="50%" y="21">gini = 0.0</text><text x="50%" y="41">samples = 1</text><text x="50%" y="61">value = [1, 0]</text></svg>
<svg id="I13" x="2909" y="1257" width="129" height="71"><rect class="n" width="100%" height="100%" fill="#9ccef2"/><text x="50%" y="21">gini = 0.0</text><text x="50%" y="41">samples = 2</text><text x="50%" y="61">value = [0, 1]</text></svg>
<svg id="I14" x="3064" y="1246" width="357" height="92"><rect class="n" width="100%" height="100%" fill="#fefaf7"/><text x="50%" y="20">Revenue per Employee &lt;= 755491.188</text><text x="50%" y="40">gini = 0.328</text><text x="50%" y="60">samples = 18</text><text x="50%" y="80">value = [0.793, 0.207]</text></svg>
<svg id="I15" x="3446" y="1246" width="205" height="92"><rect class="n" width="100%" height="100%" fill="#e3f1fb"/><text x="50%" y="20">P/E &lt;= 21.658</text><text x="50%" y="40">gini = 0.444</text><text x="50%" y="60">samples = 2</text><text x="50%" y="80">value = [0.333, 0.667]</text></svg>
<svg id="I16" x="3676" y="1257" width="129" height="71"><rect class="n" width="100%" height="100%" fill="#9ccef2"/><text x="50%" y="21">gini = 0.0</text><text x="50%" y="41">samples = 1</text><text x="50%" y="61">value = [0, 1]</text></svg>
<svg id="I17" x="3830" y="1257" width="129" height="71"><rect class="n" width="100%" height="100%" fill="#fae6d8"/><text x="50%" y="21">gini = 0.0</text><text x="50%" y="41">samples = 3</text><text x="50%" y="61">value = [1, 0]</text></svg>
<svg id="I18" x="3985" y="1246" width="281" height="92"><rect class="n" width="100%" height="100%" fill="#fdf6f1"/><text x="50%" y="20">Net Debt LF &lt;= 1611467456.0</text><text x="50%" y="40">gini = 0.375</text><text x="50%" y="60">samples = 7</text><text x="50%" y="80">value = [0.75, 0.25]</text></svg>
<svg id="I19" x="4301" y="1257" width="129" height="71"><rect class="n" width="100%" height="100%" fill="#9ccef2"/><text x="50%" y="21">gini = 0.0</text><text x="50%" y="41">samples = 2</text><text x="50%" y="61">value = [0, 1]</text></svg>
<svg id="I20" x="4455" y="1246" width="184" height="92"><rect class="n" width="100%" height="100%" fill="#fdf6f0"/><text x="50%" y="20">EPS T12M &lt;= 0.22</text><text x="50%" y="40">gini = 0.227</text><text x="50%" y="60">samples = 15</text><text x="50%" y="80">value = [0.87, 0.13]</text></svg>
<svg id="I21" x="4669" y="1257" width="129" height="71"><rect class="n" width="100%" height="100%" fill="#fae6d8"/><text x="50%" y="21">gini = 0.0</text><text x="50%" y="41">samples = 4</text><text x="50%" y="61">value = [1, 0]</text></svg>
<svg id="I22" x="4826" y="1246" width="205" height="92"><rect class="n" width="100%" height="100%" fill="#f8fbfe"/><text x="50%" y="20">Beta:M-1 &lt;= 1.359</text><text x="50%" y="40">gini = 0.363</text><text x="50%" y="60">samples = 11</text><text x="50%" y="80">value = [0.238, 0.762]</text></svg>
<svg id="I23" x="5281" y="1246" width="201" height="92"><rect class="n" width="100%" height="100%" fill="#fff"/><text x="50%" y="20">Sharpe:M-1 &lt;= 1.337</text><text x="50%" y="40">gini = 0.5</text><text x="50%" y="60">samples = 2</text><text x="50%" y="80">value = [0.5, 0.5]</text></svg>
<svg id="I24" x="5506" y="1257" width="138" height="71"><rect class="n" width="100%" height="100%" fill="#f4f9fe"/><text x="50%" y="21">gini = 0.0</text><text x="50%" y="41">samples = 10</text><text x="50%" y="61">value = [0, 1]</text></svg>
<svg id="I25" x="6251" y="1246" width="278" height="92"><rect class="n" width="100%" height="100%" fill="#fdf8f4"/><text x="50%" y="20">Net Debt LF &lt;= -219544008.0</text><text x="50%" y="40">gini = 0.105</text><text x="50%" y="60">samples = 10</text><text x="50%" y="80">value = [0.944, 0.056]</text></svg>
<svg id="I26" x="6553" y="1257" width="138" height="71"><rect class="n" width="100%" height="100%" fill="#fefcfb"/><text x="50%" y="21">gini = 0.0</text><text x="50%" y="41">samples = 23</text><text x="50%" y="61">value = [1, 0]</text></svg>

<svg id="J1" x="44" y="1395" width="129" height="71"><rect class="n" width="100%" height="100%" fill="#e58139"/><text x="50%" y="21">gini = 0.0</text><text x="50%" y="41">samples = 1</text><text x="50%" y="61">value = [1, 0]</text></svg>
<svg id="J2" x="197" y="1395" width="129" height="71"><rect class="n" width="100%" height="100%" fill="#9ccef2"/><text x="50%" y="21">gini = 0.0</text><text x="50%" y="41">samples = 2</text><text x="50%" y="61">value = [0, 1]</text></svg>
<svg id="J3" x="350" y="1395" width="129" height="71"><rect class="n" width="100%" height="100%" fill="#fdf3ee"/><text x="50%" y="21">gini = 0.0</text><text x="50%" y="41">samples = 6</text><text x="50%" y="61">value = [1, 0]</text></svg>
<svg id="J4" x="504" y="1384" width="282" height="92"><rect class="n" width="100%" height="100%" fill="#e3f1fb"/><text x="50%" y="20">Net Debt LF &lt;= 1772226944.0</text><text x="50%" y="40">gini = 0.375</text><text x="50%" y="60">samples = 3</text><text x="50%" y="80">value = [0.25, 0.75]</text></svg>
<svg id="J5" x="830" y="1384" width="205" height="92"><rect class="n" width="100%" height="100%" fill="#f6fafe"/><text x="50%" y="20">EPS T12M &lt;= 2.59</text><text x="50%" y="40">gini = 0.225</text><text x="50%" y="60">samples = 19</text><text x="50%" y="80">value = [0.129, 0.871]</text></svg>
<svg id="J6" x="1060" y="1384" width="332" height="92"><rect class="n" width="100%" height="100%" fill="#fefcfb"/><text x="50%" y="20">Number of Employees:Y &lt;= 12698.5</text><text x="50%" y="40">gini = 0.42</text><text x="50%" y="60">samples = 13</text><text x="50%" y="80">value = [0.7, 0.3]</text></svg>
<svg id="J7" x="1480" y="1384" width="191" height="92"><rect class="n" width="100%" height="100%" fill="#e3f1fb"/><text x="50%" y="20">Sharpe:M-1 &lt;= 0.76</text><text x="50%" y="40">gini = 0.375</text><text x="50%" y="60">samples = 2</text><text x="50%" y="80">value = [0.25, 0.75]</text></svg>
<svg id="J8" x="1694" y="1395" width="129" height="71"><rect class="n" width="100%" height="100%" fill="#e8f4fc"/><text x="50%" y="21">gini = 0.0</text><text x="50%" y="41">samples = 5</text><text x="50%" y="61">value = [0, 1]</text></svg>
<svg id="J9" x="1848" y="1395" width="129" height="71"><rect class="n" width="100%" height="100%" fill="#f6d5bd"/><text x="50%" y="21">gini = 0.0</text><text x="50%" y="41">samples = 2</text><text x="50%" y="61">value = [1, 0]</text></svg>
<svg id="J10" x="2002" y="1395" width="129" height="71"><rect class="n" width="100%" height="100%" fill="#9ccef2"/><text x="50%" y="21">gini = 0.0</text><text x="50%" y="41">samples = 1</text><text x="50%" y="61">value = [0, 1]</text></svg>
<svg id="J11" x="2986" y="1384" width="205" height="92"><rect class="n" width="100%" height="100%" fill="#fff"/><text x="50%" y="20">P/E &lt;= 17.283</text><text x="50%" y="40">gini = 0.457</text><text x="50%" y="60">samples = 12</text><text x="50%" y="80">value = [0.647, 0.353]</text></svg>
<svg id="J12" x="3216" y="1395" width="129" height="71"><rect class="n" width="100%" height="100%" fill="#fdf3ee"/><text x="50%" y="21">gini = 0.0</text><text x="50%" y="41">samples = 6</text><text x="50%" y="61">value = [1, 0]</text></svg>
<svg id="J13" x="3446" y="1395" width="129" height="71"><rect class="n" width="100%" height="100%" fill="#9ccef2"/><text x="50%" y="21">gini = 0.0</text><text x="50%" y="41">samples = 1</text><text x="50%" y="61">value = [0, 1]</text></svg>
<svg id="J14" x="3600" y="1395" width="129" height="71"><rect class="n" width="100%" height="100%" fill="#e58139"/><text x="50%" y="21">gini = 0.0</text><text x="50%" y="41">samples = 1</text><text x="50%" y="61">value = [1, 0]</text></svg>
<svg id="J15" x="3877" y="1395" width="130" height="71"><rect class="n" width="100%" height="100%" fill="#fcf0e8"/><text x="50%" y="21">gini = 0.0</text><text x="50%" y="41">samples = 4</text><text x="50%" y="61">value = [1, 0]</text></svg>
<svg id="J16" x="4032" y="1384" width="181" height="92"><rect class="n" width="100%" height="100%" fill="#e3f1fb"/><text x="50%" y="20">Beta:M-1 &lt;= 1.114</text><text x="50%" y="40">gini = 0.375</text><text x="50%" y="60">samples = 3</text><text x="50%" y="80">value = [0.25, 0.75]</text></svg>
<svg id="J17" x="4237" y="1395" width="130" height="71"><rect class="n" width="100%" height="100%" fill="#399de5"/><text x="50%" y="21">gini = 0.0</text><text x="50%" y="41">samples = 1</text><text x="50%" y="61">value = [0, 1]</text></svg>
<svg id="J18" x="4390" y="1384" width="360" height="92"><rect class="n" width="100%" height="100%" fill="#fdf6f1"/><text x="50%" y="20">Revenue per Employee &lt;= 146513.695</text><text x="50%" y="40">gini = 0.165</text><text x="50%" y="60">samples = 14</text><text x="50%" y="80">value = [0.909, 0.091]</text></svg>
<svg id="J19" x="4773" y="1384" width="310" height="92"><rect class="n" width="100%" height="100%" fill="#f4f9fe"/><text x="50%" y="20">Revenue T12M &lt;= 6365462784.0</text><text x="50%" y="40">gini = 0.219</text><text x="50%" y="60">samples = 7</text><text x="50%" y="80">value = [0.125, 0.875]</text></svg>
<svg id="J20" x="5108" y="1384" width="184" height="92"><rect class="n" width="100%" height="100%" fill="#fefcfa"/><text x="50%" y="20">EPS T12M &lt;= 5.45</text><text x="50%" y="40">gini = 0.48</text><text x="50%" y="60">samples = 4</text><text x="50%" y="80">value = [0.6, 0.4]</text></svg>
<svg id="J21" x="5317" y="1395" width="129" height="71"><rect class="n" width="100%" height="100%" fill="#399de5"/><text x="50%" y="21">gini = 0.0</text><text x="50%" y="41">samples = 1</text><text x="50%" y="61">value = [0, 1]</text></svg>
<svg id="J22" x="5470" y="1395" width="129" height="71"><rect class="n" width="100%" height="100%" fill="#e58139"/><text x="50%" y="21">gini = 0.0</text><text x="50%" y="41">samples = 1</text><text x="50%" y="61">value = [1, 0]</text></svg>
<svg id="J23" x="6195" y="1384" width="201" height="92"><rect class="n" width="100%" height="100%" fill="#fff"/><text x="50%" y="20">Sharpe:M-1 &lt;= 4.465</text><text x="50%" y="40">gini = 0.5</text><text x="50%" y="60">samples = 2</text><text x="50%" y="80">value = [0.5, 0.5]</text></svg>
<svg id="J24" x="6420" y="1395" width="129" height="71"><rect class="n" width="100%" height="100%" fill="#fdf8f4"/><text x="50%" y="21">gini = 0.0</text><text x="50%" y="41">samples = 8</text><text x="50%" y="61">value = [1, 0]</text></svg>

<svg id="K1" x="303" y="1533" width="129" height="71"><rect class="n" width="100%" height="100%" fill="#c6e3f8"/><text x="50%" y="21">gini = 0.0</text><text x="50%" y="41">samples = 2</text><text x="50%" y="61">value = [0, 1]</text></svg>
<svg id="K2" x="456" y="1533" width="129" height="71"><rect class="n" width="100%" height="100%" fill="#e58139"/><text x="50%" y="21">gini = 0.0</text><text x="50%" y="41">samples = 1</text><text x="50%" y="61">value = [1, 0]</text></svg>
<svg id="K3" x="609" y="1522" width="206" height="92"><rect class="n" width="100%" height="100%" fill="#fcefe6"/><text x="50%" y="20">P/E &lt;= 21.038</text><text x="50%" y="40">gini = 0.444</text><text x="50%" y="60">samples = 3</text><text x="50%" y="80">value = [0.667, 0.333]</text></svg>
<svg id="K4" x="839" y="1522" width="232" height="92"><rect class="n" width="100%" height="100%" fill="#f5fafe"/><text x="50%" y="20">Market Cap &lt;= 7628.402</text><text x="50%" y="40">gini = 0.133</text><text x="50%" y="60">samples = 16</text><text x="50%" y="80">value = [0.071, 0.929]</text></svg>
<svg id="K5" x="1108" y="1522" width="206" height="92"><rect class="n" width="100%" height="100%" fill="#fcf1e9"/><text x="50%" y="20">Sharpe:M-1 &lt;= 10.926</text><text x="50%" y="40">gini = 0.18</text><text x="50%" y="60">samples = 7</text><text x="50%" y="80">value = [0.9, 0.1]</text></svg>
<svg id="K6" x="1343" y="1522" width="197" height="92"><rect class="n" width="100%" height="100%" fill="#fff"/><text x="50%" y="20">EPS T12M &lt;= 3.025</text><text x="50%" y="40">gini = 0.5</text><text x="50%" y="60">samples = 6</text><text x="50%" y="80">value = [0.5, 0.5]</text></svg>
<svg id="K7" x="1564" y="1533" width="130" height="71"><rect class="n" width="100%" height="100%" fill="#e58139"/><text x="50%" y="21">gini = 0.0</text><text x="50%" y="41">samples = 1</text><text x="50%" y="61">value = [1, 0]</text></svg>
<svg id="K8" x="1717" y="1533" width="130" height="71"><rect class="n" width="100%" height="100%" fill="#c6e3f8"/><text x="50%" y="21">gini = 0.0</text><text x="50%" y="41">samples = 1</text><text x="50%" y="61">value = [0, 1]</text></svg>
<svg id="K9" x="2821" y="1522" width="271" height="92"><rect class="n" width="100%" height="100%" fill="#f0f7fd"/><text x="50%" y="20">Net Debt LF &lt;= 105758004.0</text><text x="50%" y="40">gini = 0.444</text><text x="50%" y="60">samples = 5</text><text x="50%" y="80">value = [0.333, 0.667]</text></svg>
<svg id="K10" x="3117" y="1522" width="207" height="92"><rect class="n" width="100%" height="100%" fill="#fdf8f4"/><text x="50%" y="20">Sharpe:M-1 &lt;= -0.788</text><text x="50%" y="40">gini = 0.298</text><text x="50%" y="60">samples = 7</text><text x="50%" y="80">value = [0.818, 0.182]</text></svg>
<svg id="K11" x="3907" y="1533" width="129" height="71"><rect class="n" width="100%" height="100%" fill="#e58139"/><text x="50%" y="21">gini = 0.0</text><text x="50%" y="41">samples = 1</text><text x="50%" y="61">value = [1, 0]</text></svg>
<svg id="K12" x="4060" y="1533" width="129" height="71"><rect class="n" width="100%" height="100%" fill="#c6e3f8"/><text x="50%" y="21">gini = 0.0</text><text x="50%" y="41">samples = 2</text><text x="50%" y="61">value = [0, 1]</text></svg>
<svg id="K13" x="4236" y="1522" width="201" height="92"><rect class="n" width="100%" height="100%" fill="#fff"/><text x="50%" y="20">Sharpe:M-1 &lt;= 1.907</text><text x="50%" y="40">gini = 0.5</text><text x="50%" y="60">samples = 2</text><text x="50%" y="80">value = [0.5, 0.5]</text></svg>
<svg id="K14" x="4461" y="1522" width="284" height="92"><rect class="n" width="100%" height="100%" fill="#fdf8f4"/><text x="50%" y="20">Net Debt LF &lt;= 2178899968.0</text><text x="50%" y="40">gini = 0.095</text><text x="50%" y="60">samples = 12</text><text x="50%" y="80">value = [0.95, 0.05]</text></svg>
<svg id="K15" x="4781" y="1533" width="129" height="71"><rect class="n" width="100%" height="100%" fill="#f2c09c"/><text x="50%" y="21">gini = 0.0</text><text x="50%" y="41">samples = 1</text><text x="50%" y="61">value = [1, 0]</text></svg>
<svg id="K16" x="4935" y="1533" width="129" height="71"><rect class="n" width="100%" height="100%" fill="#f4f9fe"/><text x="50%" y="21">gini = 0.0</text><text x="50%" y="41">samples = 6</text><text x="50%" y="61">value = [0, 1]</text></svg>
<svg id="K17" x="5093" y="1522" width="206" height="92"><rect class="n" width="100%" height="100%" fill="#e8f4fc"/><text x="50%" y="20">Beta:M-1 &lt;= 1.592</text><text x="50%" y="40">gini = 0.444</text><text x="50%" y="60">samples = 2</text><text x="50%" y="80">value = [0.333, 0.667]</text></svg>
<svg id="K18" x="5323" y="1533" width="130" height="71"><rect class="n" width="100%" height="100%" fill="#f2c09c"/><text x="50%" y="21">gini = 0.0</text><text x="50%" y="41">samples = 2</text><text x="50%" y="61">value = [1, 0]</text></svg>
<svg id="K19" x="6153" y="1533" width="129" height="71"><rect class="n" width="100%" height="100%" fill="#e58139"/><text x="50%" y="21">gini = 0.0</text><text x="50%" y="41">samples = 1</text><text x="50%" y="61">value = [1, 0]</text></svg>
<svg id="K20" x="6307" y="1533" width="129" height="71"><rect class="n" width="100%" height="100%" fill="#399de5"/><text x="50%" y="21">gini = 0.0</text><text x="50%" y="41">samples = 1</text><text x="50%" y="61">value = [0, 1]</text></svg>

<svg id="L1" x="400" y="1670" width="129" height="71"><rect class="n" width="100%" height="100%" fill="#f2c09c"/><text x="50%" y="21">gini = 0.0</text><text x="50%" y="41">samples = 2</text><text x="50%" y="61">value = [1, 0]</text></svg>
<svg id="L2" x="553" y="1670" width="130" height="71"><rect class="n" width="100%" height="100%" fill="#399de5"/><text x="50%" y="21">gini = 0.0</text><text x="50%" y="41">samples = 1</text><text x="50%" y="61">value = [0, 1]</text></svg>
<svg id="L3" x="707" y="1670" width="129" height="71"><rect class="n" width="100%" height="100%" fill="#f5fafe"/><text x="50%" y="21">gini = 0.0</text><text x="50%" y="41">samples = 7</text><text x="50%" y="61">value = [0, 1]</text></svg>
<svg id="L4" x="861" y="1660" width="232" height="92"><rect class="n" width="100%" height="100%" fill="#f4f9fe"/><text x="50%" y="20">Market Cap &lt;= 8142.948</text><text x="50%" y="40">gini = 0.26</text><text x="50%" y="60">samples = 9</text><text x="50%" y="80">value = [0.154, 0.846]</text></svg>
<svg id="L5" x="1117" y="1670" width="129" height="71"><rect class="n" width="100%" height="100%" fill="#fcf0e8"/><text x="50%" y="21">gini = 0.0</text><text x="50%" y="41">samples = 6</text><text x="50%" y="61">value = [1, 0]</text></svg>
<svg id="L6" x="1271" y="1670" width="129" height="71"><rect class="n" width="100%" height="100%" fill="#399de5"/><text x="50%" y="21">gini = 0.0</text><text x="50%" y="41">samples = 1</text><text x="50%" y="61">value = [0, 1]</text></svg>
<svg id="L7" x="1424" y="1670" width="129" height="71"><rect class="n" width="100%" height="100%" fill="#c6e3f8"/><text x="50%" y="21">gini = 0.0</text><text x="50%" y="41">samples = 2</text><text x="50%" y="61">value = [0, 1]</text></svg>
<svg id="L8" x="1577" y="1660" width="287" height="92"><rect class="n" width="100%" height="100%" fill="#fcf0e8"/><text x="50%" y="20">GICS Sector_Industrials &lt;= 0.5</text><text x="50%" y="40">gini = 0.278</text><text x="50%" y="60">samples = 4</text><text x="50%" y="80">value = [0.833, 0.167]</text></svg>
<svg id="L9" x="2766" y="1670" width="130" height="71"><rect class="n" width="100%" height="100%" fill="#c6e3f8"/><text x="50%" y="21">gini = 0.0</text><text x="50%" y="41">samples = 3</text><text x="50%" y="61">value = [0, 1]</text></svg>
<svg id="L10" x="2920" y="1670" width="129" height="71"><rect class="n" width="100%" height="100%" fill="#f2c09c"/><text x="50%" y="21">gini = 0.0</text><text x="50%" y="41">samples = 2</text><text x="50%" y="61">value = [1, 0]</text></svg>
<svg id="L11" x="3128" y="1670" width="129" height="71"><rect class="n" width="100%" height="100%" fill="#fdf3ee"/><text x="50%" y="21">gini = 0.0</text><text x="50%" y="41">samples = 6</text><text x="50%" y="61">value = [1, 0]</text></svg>
<svg id="L12" x="3281" y="1670" width="129" height="71"><rect class="n" width="100%" height="100%" fill="#9ccef2"/><text x="50%" y="21">gini = 0.0</text><text x="50%" y="41">samples = 1</text><text x="50%" y="61">value = [0, 1]</text></svg>
<svg id="L13" x="4135" y="1670" width="130" height="71"><rect class="n" width="100%" height="100%" fill="#399de5"/><text x="50%" y="21">gini = 0.0</text><text x="50%" y="41">samples = 1</text><text x="50%" y="61">value = [0, 1]</text></svg>
<svg id="L14" x="4289" y="1670" width="129" height="71"><rect class="n" width="100%" height="100%" fill="#e58139"/><text x="50%" y="21">gini = 0.0</text><text x="50%" y="41">samples = 1</text><text x="50%" y="61">value = [1, 0]</text></svg>
<svg id="L15" x="4476" y="1660" width="221" height="92"><rect class="n" width="100%" height="100%" fill="#fcf2eb"/><text x="50%" y="20">Market Cap &lt;= 20444.8</text><text x="50%" y="40">gini = 0.198</text><text x="50%" y="60">samples = 6</text><text x="50%" y="80">value = [0.889, 0.111]</text></svg>
<svg id="L16" x="4721" y="1670" width="129" height="71"><rect class="n" width="100%" height="100%" fill="#fdf8f4"/><text x="50%" y="21">gini = 0.0</text><text x="50%" y="41">samples = 6</text><text x="50%" y="61">value = [1, 0]</text></svg>
<svg id="L17" x="5055" y="1670" width="129" height="71"><rect class="n" width="100%" height="100%" fill="#e58139"/><text x="50%" y="21">gini = 0.0</text><text x="50%" y="41">samples = 1</text><text x="50%" y="61">value = [1, 0]</text></svg>
<svg id="L18" x="5208" y="1670" width="129" height="71"><rect class="n" width="100%" height="100%" fill="#9ccef2"/><text x="50%" y="21">gini = 0.0</text><text x="50%" y="41">samples = 1</text><text x="50%" y="61">value = [0, 1]</text></svg>

<svg id="M1" x="789" y="1808" width="129" height="71"><rect class="n" width="100%" height="100%" fill="#e58139"/><text x="50%" y="21">gini = 0.0</text><text x="50%" y="41">samples = 1</text><text x="50%" y="61">value = [1, 0]</text></svg>
<svg id="M2" x="941" y="1798" width="321" height="92"><rect class="n" width="100%" height="100%" fill="#eef6fd"/><text x="50%" y="20">Revenue T12M &lt;= 26832999424.0</text><text x="50%" y="40">gini = 0.153</text><text x="50%" y="60">samples = 8</text><text x="50%" y="80">value = [0.083, 0.917]</text></svg>
<svg id="M3" x="1580" y="1808" width="130" height="71"><rect class="n" width="100%" height="100%" fill="#fae6d8"/><text x="50%" y="21">gini = 0.0</text><text x="50%" y="41">samples = 3</text><text x="50%" y="61">value = [1, 0]</text></svg>
<svg id="M4" x="1734" y="1808" width="129" height="71"><rect class="n" width="100%" height="100%" fill="#399de5"/><text x="50%" y="21">gini = 0.0</text><text x="50%" y="41">samples = 1</text><text x="50%" y="61">value = [0, 1]</text></svg>
<svg id="M5" x="4445" y="1808" width="129" height="71"><rect class="n" width="100%" height="100%" fill="#fdf5f0"/><text x="50%" y="21">gini = 0.0</text><text x="50%" y="41">samples = 5</text><text x="50%" y="61">value = [1, 0]</text></svg>
<svg id="M6" x="4597" y="1808" width="130" height="71"><rect class="n" width="100%" height="100%" fill="#399de5"/><text x="50%" y="21">gini = 0.0</text><text x="50%" y="41">samples = 1</text><text x="50%" y="61">value = [0, 1]</text></svg>

<svg id="N1" x="942" y="1946" width="129" height="71"><rect class="n" width="100%" height="100%" fill="#eef6fd"/><text x="50%" y="21">gini = 0.0</text><text x="50%" y="41">samples = 6</text><text x="50%" y="61">value = [0, 1]</text></svg>
<svg id="N2" x="1095" y="1946" width="205" height="71"><rect class="n" width="100%" height="100%" fill="#e3f1fb"/><text x="50%" y="21">gini = 0.444</text><text x="50%" y="41">samples = 2</text><text x="50%" y="61">value = [0.333, 0.667]</text></svg>
</svg>
<script>
(function(){
var pairs="A1:R0 A2:R0 B1:A1 B2:A1 B3:A2 B4:A2 C1:B1 C2:B1 C3:B2 C4:B2 C5:B3 C6:B3 D1:C1 D2:C1 D3:C2 D4:C2 D5:C3 D6:C3 D7:C4 D8:C4 D9:C5 D10:C5 D11:C6 D12:C6 E1:D1 E2:D1 E3:D2 E4:D2 E5:D3 E6:D3 E7:D4 E8:D4 E9:D5 E10:D5 E11:D7 E12:D7 E13:D9 E14:D9 E15:D10 E16:D10 E17:D11 E18:D11 F1:E2 F2:E2 F3:E3 F4:E3 F5:E4 F6:E4 F7:E6 F8:E6 F9:E8 F10:E8 F11:E13 F12:E13 F13:E16 F14:E16 F15:E18 F16:E18 G1:F2 G2:F2 G3:F3 G4:F3 G5:F4 G6:F4 G7:F5 G8:F5 G9:F6 G10:F6 G11:F10 G12:F10 G13:F11 G14:F11 G15:F12 G16:F12 G17:F13 G18:F13 G19:F14 G20:F14 H1:G1 H2:G1 H3:G4 H4:G4 H5:G5 H6:G5 H7:G7 H8:G7 H9:G8 H10:G8 H11:G9 H12:G9 H13:G10 H14:G10 H15:G12 H16:G12 H17:G15 H18:G15 H19:G19 H20:G19 I1:H2 I2:H2 I3:H3 I4:H3 I5:H4 I6:H4 I7:H6 I8:H6 I9:H7 I10:H7 I11:H8 I12:H8 I13:H9 I14:H9 I15:H10 I16:H10 I17:H12 I18:H12 I19:H13 I20:H13 I21:H14 I22:H14 I23:H16 I24:H16 I25:H20 I26:H20 J1:I2 J2:I2 J3:I3 J4:I3 J5:I4 J6:I4 J7:I5 J8:I5 J9:I6 J10:I6 J11:I14 J12:I14 J13:I15 J14:I15 J15:I18 J16:I18 J17:I20 J18:I20 J19:I22 J20:I22 J21:I23 J22:I23 J23:I25 J24:I25 K1:J4 K2:J4 K3:J5 K4:J5 K5:J6 K6:J6 K7:J7 K8:J7 K9:J11 K10:J11 K11:J16 K12:J16 K13:J18 K14:J18 K15:J19 K16:J19 K17:J20 K18:J20 K19:J23 K20:J23 L1:K3 L2:K3 L3:K4 L4:K4 L5:K5 L6:K5 L7:K6 L8:K6 L9:K9 L10:K9 L11:K10 L12:K10 L13:K13 L14:K13 L15:K14 L16:K14 L17:K17 L18:K17 M1:L4 M2:L4 M3:L8 M4:L8 M5:L15 M6:L15 N1:M2 N2:M2".split(" ");
var NS="http://www.w3.org/2000/svg",g=document.getElementById("edges");
function box(id){var e=document.getElementById(id);var x=+e.getAttribute("x"),y=+e.getAttribute("y"),w=+e.getAttribute("width"),h=+e.getAttribute("height");return {cx:x+w/2,cy:y+h/2,hw:w/2,hh:h/2};}
function tf(b,dx,dy){var a=Math.abs(dx)>1e-6?b.hw/Math.abs(dx):1e9,c=Math.abs(dy)>1e-6?b.hh/Math.abs(dy):1e9;return Math.min(a,c);}
pairs.forEach(function(p){var s=p.split(":"),c=box(s[0]),q=box(s[1]);
var dx=c.cx-q.cx,dy=c.cy-q.cy;var t0=tf(q,dx,dy),t1=1-tf(c,dx,dy);
var x0=q.cx+dx*t0,y0=q.cy+dy*t0,x1=q.cx+dx*t1,y1=q.cy+dy*t1;
var L=Math.sqrt(dx*dx+dy*dy),ux=dx/L,uy=dy/L,al=15,aw=5.5;
var bx=x1-ux*al,by=y1-uy*al;
var ln=document.createElementNS(NS,"line");ln.setAttribute("x1",x0);ln.setAttribute("y1",y0);ln.setAttribute("x2",bx);ln.setAttribute("y2",by);ln.setAttribute("stroke","#000");ln.setAttribute("stroke-width","1.6");g.appendChild(ln);
var pg=document.createElementNS(NS,"polygon");pg.setAttribute("points",x1+","+y1+" "+(bx-uy*aw)+","+(by+ux*aw)+" "+(bx+uy*aw)+","+(by-ux*aw));pg.setAttribute("fill","#000");pg.setAttribute("stroke","#000");g.appendChild(pg);});
})();
</script>
</body></html>
